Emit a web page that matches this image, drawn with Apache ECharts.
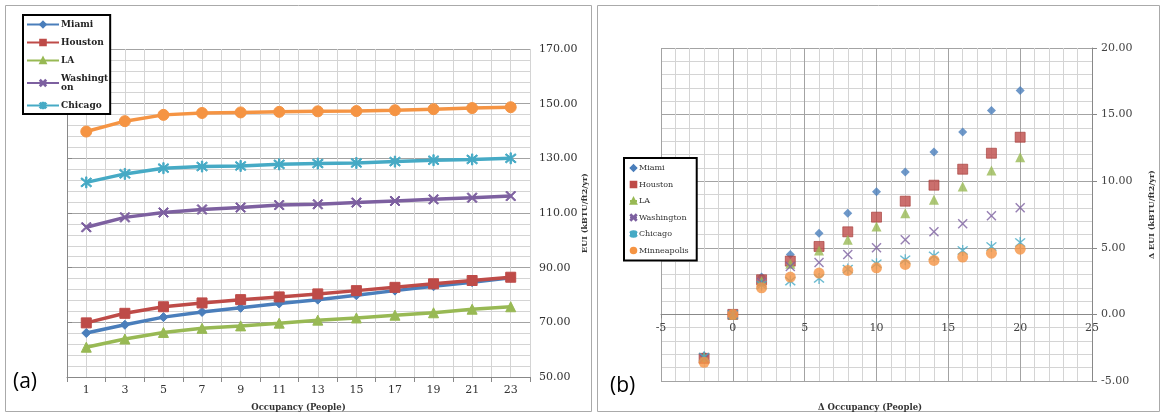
<!DOCTYPE html>
<html><head><meta charset="utf-8">
<script src="https://cdn.jsdelivr.net/npm/echarts@6/dist/echarts.min.js"></script>
<style>html,body{margin:0;padding:0;background:#fff}#c{width:1161px;height:417px}</style>
</head><body><div id="c"></div>
<script>
// ---- Panel (a) data ----
const occupancy = ['1','3','5','7','9','11','13','15','17','19','21','23'];
const miamiA = [66.1,69.1,71.9,73.8,75.3,76.9,78.3,79.9,81.6,83.2,84.7,86.3];
const houstonA = [69.8,73.3,75.7,77.1,78.3,79.3,80.4,81.6,82.8,84.1,85.3,86.5];
const laA = [60.9,63.9,66.3,67.8,68.7,69.7,70.8,71.6,72.6,73.5,74.8,75.7];
const washingtonA = [104.8,108.4,110.2,111.3,112.0,112.9,113.2,113.8,114.4,115.0,115.6,116.2];
const chicagoA = [121.2,124.3,126.4,127.0,127.2,127.8,128.1,128.3,128.8,129.3,129.6,130.0];
const minneapolisA = [139.8,143.6,145.9,146.6,146.8,147.0,147.2,147.3,147.6,148.0,148.4,148.7];
// ---- Panel (b) data ----
const deltaOcc = [-2,0,2,4,6,8,10,12,14,16,18,20];
const miamiB = [-3.1,0,2.8,4.5,6.1,7.6,9.2,10.7,12.2,13.7,15.3,16.8];
const houstonB = [-3.3,0,2.6,4.0,5.1,6.2,7.3,8.5,9.7,10.9,12.1,13.3];
const laB = [-3.2,0,2.5,3.8,4.8,5.6,6.6,7.6,8.6,9.6,10.8,11.8];
const washingtonB = [-3.3,0,2.4,3.6,3.9,4.5,5.0,5.6,6.2,6.8,7.4,8.0];
const chicagoB = [-3.2,0,2.2,2.5,2.7,3.4,3.8,4.1,4.4,4.8,5.1,5.4];
const minneapolisB = [-3.6,0,2.0,2.8,3.1,3.3,3.5,3.75,4.05,4.3,4.6,4.9];
const names = ['Miami','Houston','LA','Washington','Chicago','Minneapolis'];

const X_SYM = 'path://M1,0L5,4L9,0L10,1L6,5L10,9L9,10L5,6L1,10L0,9L4,5L0,1Z';
const STAR_SYM = 'path://M1,0L5,4L9,0L10,1L6,5L10,9L9,10L5,6L1,10L0,9L4,5L0,1Z M4.4,-1L5.6,-1L5.6,11L4.4,11Z';
const lineCol = ['#4a7ebb','#be4b48','#98b954','#7d60a0','#46aac5','#f59443'];
const symbols = ['diamond','rect','triangle',X_SYM,STAR_SYM,'circle'];
const symSizes = [9,10,10,10,11,11];
const seriesA = [miamiA,houstonA,laA,washingtonA,chicagoA,minneapolisA];
const seriesB = [miamiB,houstonB,laB,washingtonB,chicagoB,minneapolisB];

const SERIF = '"DejaVu Serif", "Liberation Serif", serif';
const MAJ = '#a3a3a3', MIN = '#d4d4d4';

const series = [];
names.forEach((n,i)=>{
  series.push({
    name: n, type:'line', xAxisIndex:0, yAxisIndex:0,
    data: seriesA[i], symbol: symbols[i], symbolSize: symSizes[i],
    lineStyle:{color:lineCol[i], width:3.5},
    itemStyle:{color:lineCol[i], borderColor:lineCol[i], borderWidth:1},
    emphasis:{disabled:true}, z: 3
  });
});
names.forEach((n,i)=>{
  series.push({
    name: n, type:'scatter', xAxisIndex:2, yAxisIndex:1,
    data: deltaOcc.map((x,k)=>[x, seriesB[i][k]]),
    symbol: symbols[i], symbolSize: symSizes[i],
    itemStyle:{color:lineCol[i], borderColor: i===1 ? '#a33a37' : lineCol[i], borderWidth: i===1?0.8:0},
    emphasis:{disabled:true}, z: 3
  });
});

const GRID_B_H = 333, Y_B_MIN = -5, Y_B_MAX = 20;
const zeroOffset = -GRID_B_H * (0 - Y_B_MIN) / (Y_B_MAX - Y_B_MIN);

const chart = echarts.init(document.getElementById('c'), null, {renderer:'canvas'});
chart.setOption({
  animation:false,
  backgroundColor:'#fff',
  grid:[
    {left:67, top:49, width:463, height:333},
    {left:661, top:48, width:431, height:GRID_B_H}
  ],
  xAxis:[
    {gridIndex:0, type:'category', data:occupancy, boundaryGap:true,
     axisLine:{lineStyle:{color:'#888'}}, axisTick:{show:true, interval:0, length:5, lineStyle:{color:'#888'}},
     axisLabel:{interval:0, margin:8, color:'#333', fontFamily:SERIF, fontSize:11},
     splitLine:{show:true, interval:0, lineStyle:{color:MAJ}},
     name:'Occupancy (People)', nameLocation:'middle', nameGap:26,
     nameTextStyle:{fontFamily:SERIF, fontWeight:'bold', fontSize:8.5, color:'#333'}},
    {gridIndex:0, type:'value', min:0, max:24, interval:1, show:true,
     axisLine:{show:false}, axisTick:{show:false}, axisLabel:{show:false},
     splitLine:{show:true, lineStyle:{color:MIN}}},
    {gridIndex:1, type:'value', min:-5, max:25, interval:5, position:'bottom', offset:zeroOffset,
     axisLine:{onZero:false, lineStyle:{color:'#888'}}, axisTick:{show:true, length:4, lineStyle:{color:'#888'}},
     axisLabel:{color:'#444', fontFamily:SERIF, fontSize:11, margin:8},
     splitLine:{show:true, lineStyle:{color:MAJ}},
     minorTick:{show:false, splitNumber:5},
     minorSplitLine:{show:true, lineStyle:{color:MIN}}}
  ],
  yAxis:[
    {gridIndex:0, type:'value', position:'right', min:50, max:170, interval:20,
     axisLine:{show:true, lineStyle:{color:'#888'}}, axisTick:{show:true, length:5, lineStyle:{color:'#888'}},
     axisLabel:{formatter:v=>v.toFixed(2), color:'#333', fontFamily:SERIF, fontSize:11, margin:9},
     splitLine:{show:true, lineStyle:{color:MAJ}},
     minorTick:{show:false, splitNumber:5},
     minorSplitLine:{show:true, lineStyle:{color:MIN}},
     name:'EUI (kBTU/ft2/yr)', nameLocation:'middle', nameGap:36, nameRotate:90,
     nameTextStyle:{fontFamily:SERIF, fontWeight:'bold', fontSize:8, color:'#333'}},
    {gridIndex:1, type:'value', position:'right', min:Y_B_MIN, max:Y_B_MAX, interval:5,
     axisLine:{show:true, onZero:false, lineStyle:{color:'#888'}}, axisTick:{show:true, length:5, lineStyle:{color:'#888'}},
     axisLabel:{formatter:v=>v.toFixed(2), color:'#444', fontFamily:SERIF, fontSize:11, margin:9},
     splitLine:{show:true, lineStyle:{color:MAJ}},
     minorTick:{show:false, splitNumber:5},
     minorSplitLine:{show:true, lineStyle:{color:MIN}},
     name:'Δ EUI (kBTU/ft2/yr)', nameLocation:'middle', nameGap:56, nameRotate:90,
     nameTextStyle:{fontFamily:SERIF, fontWeight:'bold', fontSize:8, color:'#333'}}
  ],
  legend:[
    {data:names.slice(0,5), orient:'vertical', left:23, top:15, itemWidth:32, itemHeight:7, itemGap:9,
     padding:[5,2,4,3], borderColor:'#000', borderWidth:2, backgroundColor:'#fff',
     selectedMode:false,
     formatter:n=> n==='Washington' ? 'Washingt\non' : n,
     textStyle:{fontFamily:SERIF, fontWeight:'bold', fontSize:9, color:'#222', lineHeight:9, padding:[0,0,0,-3]}},
    {data:names.map(n=>({name:n})), orient:'vertical', left:624, top:158, itemWidth:7, itemHeight:7, itemGap:8.5,
     padding:[6,8,6,5], borderColor:'#000', borderWidth:2, backgroundColor:'#fff',
     selectedMode:false,
     textStyle:{fontFamily:SERIF, fontSize:8, color:'#333', padding:[0,0,0,-3]}}
  ],
  graphic:[
    {type:'rect', shape:{x:5.5, y:5.5, width:586, height:406}, style:{fill:'none', stroke:'#aaa', lineWidth:1}, silent:true, z:-10},
    {type:'rect', shape:{x:597.5, y:5.5, width:562, height:406}, style:{fill:'none', stroke:'#aaa', lineWidth:1}, silent:true, z:-10},
    {type:'text', left:13, top:372, style:{text:'(a)', font:'21px "Open Sans", sans-serif', fill:'#000'}},
    {type:'text', left:610, top:376, style:{text:'(b)', font:'21px "Open Sans", sans-serif', fill:'#000'}},
    {type:'text', left:818, top:403, style:{text:'Δ Occupancy (People)', font:'bold 8.5px "DejaVu Serif", serif', fill:'#333'}}
  ],
  series: series
});
</script></body></html>
